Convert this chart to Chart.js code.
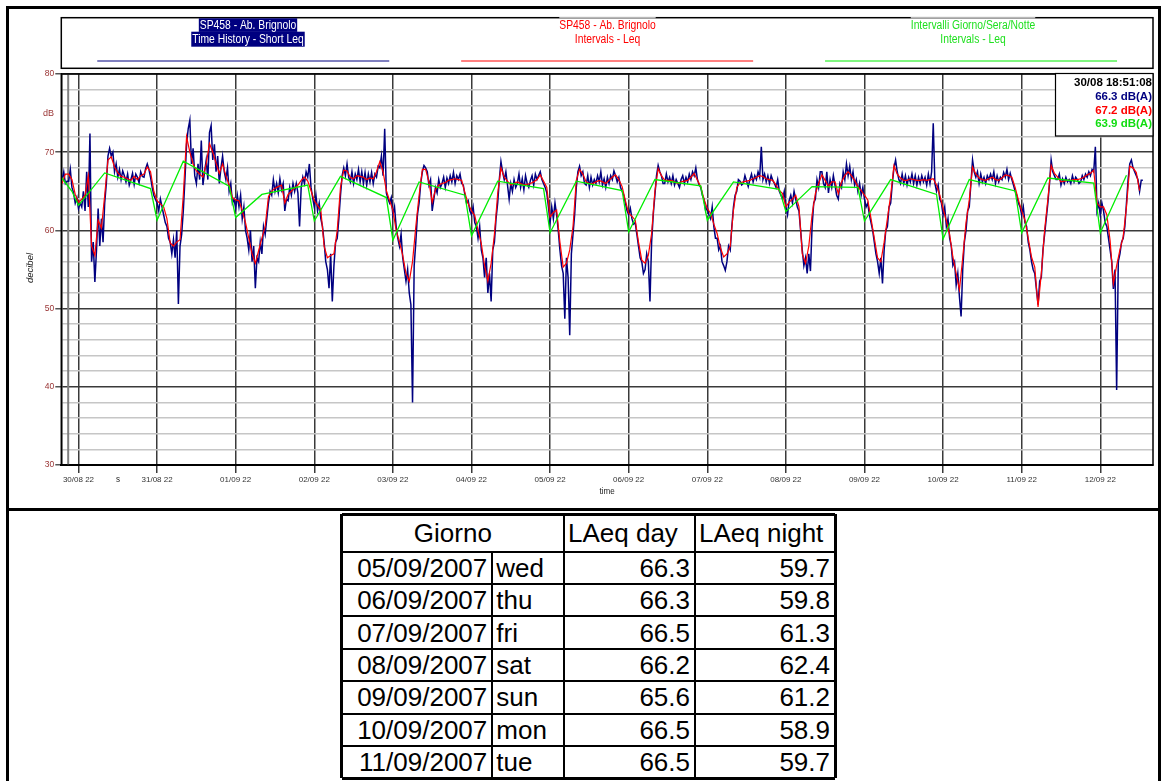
<!DOCTYPE html>
<html>
<head>
<meta charset="utf-8">
<script src="https://cdn.jsdelivr.net/npm/chart.js@4.4.1/dist/chart.umd.min.js"></script>
<style>
  html, body { margin: 0; padding: 0; background: #fff; }
  #page { position: relative; width: 1165px; height: 781px; overflow: hidden; background: #fff; }
  #plot { position: absolute; left: 0; top: 0; }
  .rule { position: absolute; background: #000; }
  .cell { position: absolute; display: flex; align-items: center; white-space: nowrap;
          font-family: "Liberation Sans", Arial, sans-serif; font-size: 26px; line-height: 1; color: #000; }
</style>
</head>
<body>
<div id="page">
  <canvas id="plot" width="1165" height="505"></canvas>
  <div id="frame"></div>
  <div id="summary"></div>
</div>
<script>
// ---- time axis: hours counted from 30/08 00:00 ----
const dayTickHours  = [22, 46, 70, 94, 118, 142, 166, 190, 214, 238, 262, 286, 310, 334];
const dayTickLabels = ['30/08 22', '31/08 22', '01/09 22', '02/09 22', '03/09 22', '04/09 22', '05/09 22',
                       '06/09 22', '07/09 22', '08/09 22', '09/09 22', '10/09 22', '11/09 22', '12/09 22'];
const axisStartHour = 16.75;
const axisEndHour = 350.1;
const cursorHour = 18 + 51 / 60 + 8 / 3600;   // 30/08 18:51:08

// ---- short Leq time history (every 30 minutes from 30/08 17:00) ----
const shortLeqStartHour = 17;
const shortLeqStepHours = 0.5;
const shortLeq = [
  66.5, 67.5, 66.0, 66.3, 66.3, 67.8, 65.5, 64.8, 63.5, 64.2,
  62.8, 63.5, 63.0, 65.0, 62.5, 67.5, 63.0, 72.4, 56.0, 58.5,
  53.4, 57.5, 62.8, 58.0, 61.5, 58.5, 63.5, 66.0, 69.5, 70.5,
  69.5, 70.0, 67.5, 68.5, 66.8, 67.8, 66.5, 67.6, 67.0, 66.2,
  67.2, 65.8, 66.5, 67.3, 65.9, 67.2, 66.8, 66.1, 67.5, 66.9,
  66.8, 67.9, 68.5, 67.8, 66.8, 65.5, 64.5, 64.0, 63.5, 62.5,
  64.0, 63.0, 62.0, 61.0, 60.5, 59.0, 58.5, 57.0, 58.8, 56.5,
  60.0, 50.6, 58.0, 59.5, 62.5, 66.5, 71.0, 73.0, 74.1, 68.5,
  70.5, 67.0, 66.0, 68.5, 66.5, 71.5, 65.8, 67.5, 69.0, 66.5,
  72.5, 73.4, 69.0, 71.0, 67.5, 69.5, 66.0, 68.0, 69.5, 67.5,
  66.5, 68.0, 65.0, 66.0, 63.5, 64.0, 62.8, 64.5, 63.0, 64.5,
  61.5, 63.0, 60.0, 59.0, 57.5, 60.0, 56.0, 58.0, 52.6, 56.5,
  56.0, 58.5, 57.0, 60.5, 59.5, 61.5, 63.5, 65.0, 64.5, 66.5,
  65.0, 66.0, 64.8, 66.6, 65.2, 66.0, 62.5, 64.0, 63.8, 65.5,
  64.5, 66.0, 65.0, 66.0, 64.8, 60.5, 65.5, 66.8, 66.0, 67.5,
  66.8, 68.5, 65.5, 64.2, 63.0, 64.5, 62.5, 63.5, 61.5, 60.5,
  58.5, 56.0, 55.0, 52.6, 57.0, 50.9, 55.5, 58.5, 59.0, 61.5,
  64.5, 67.0, 68.0, 67.0, 68.5, 66.8, 66.2, 67.5, 66.0, 67.2,
  66.5, 67.8, 66.2, 67.5, 66.0, 67.4, 65.8, 67.2, 66.2, 67.4,
  66.0, 67.2, 66.8, 68.2, 68.0, 69.5, 67.0, 73.0, 64.8, 64.0,
  63.5, 64.2, 62.0, 63.0, 60.5, 59.0, 58.0, 59.5, 56.5, 55.0,
  53.5, 55.0, 52.0, 50.5, 38.0, 55.5, 58.5, 62.0, 63.5, 66.0,
  67.5, 68.3, 68.0, 67.5, 65.8, 66.5, 62.5, 64.0, 65.5, 64.8,
  66.5, 65.5, 66.0, 66.8, 65.5, 66.7, 66.0, 67.0, 66.2, 67.4,
  66.0, 67.0, 66.5, 67.2, 66.0, 65.8, 64.5, 63.5, 63.8, 62.5,
  62.0, 63.0, 61.0, 60.5, 59.0, 60.5, 57.5, 56.5, 54.0, 56.5,
  52.0, 54.5, 50.9, 57.5, 58.5, 61.5, 63.5, 66.5, 68.8, 67.5,
  66.5, 67.5, 65.8, 64.0, 66.0, 65.0, 66.5, 65.5, 66.0, 67.2,
  65.5, 66.6, 65.2, 67.0, 66.0, 65.5, 66.4, 67.0, 65.8, 67.2,
  66.5, 67.0, 67.5, 66.5, 66.0, 65.5, 64.8, 63.0, 61.0, 63.0,
  61.5, 63.5, 62.0, 60.0, 57.5, 55.5, 54.5, 48.7, 56.5, 54.0,
  46.6, 57.0, 59.5, 62.0, 65.5, 67.5, 68.2, 67.0, 67.5, 66.0,
  65.8, 67.0, 65.5, 66.8, 65.8, 66.5, 66.0, 67.0, 66.2, 67.5,
  65.8, 66.6, 65.5, 66.8, 66.0, 67.0, 66.5, 67.6, 67.0, 66.2,
  66.8, 65.5, 65.0, 64.5, 63.5, 62.5, 62.0, 62.8, 61.5, 60.8,
  61.0, 59.5, 58.0, 56.5, 56.0, 54.5, 55.0, 57.0, 56.0, 50.9,
  58.5, 62.0, 64.5, 67.0, 68.3, 67.5, 67.0, 66.0, 66.0, 67.2,
  66.2, 66.8, 66.0, 67.0, 65.8, 66.5, 66.0, 65.5, 66.5, 67.0,
  66.0, 66.8, 66.2, 67.2, 66.5, 67.5, 67.0, 68.0, 66.5, 65.8,
  65.5, 64.5, 64.0, 62.5, 63.0, 62.0, 61.5, 63.0, 60.5, 59.0,
  59.0, 57.5, 58.0, 56.0, 55.5, 54.9, 56.0, 58.0, 57.5, 60.5,
  63.0, 64.5, 65.0, 66.5, 66.3, 65.8, 66.0, 67.0, 66.3, 65.6,
  66.5, 67.2, 66.2, 67.0, 66.5, 67.5, 66.8, 70.7, 66.5, 67.2,
  66.2, 67.0, 66.0, 67.0, 66.4, 66.0, 65.5, 66.5, 65.0, 64.5,
  64.0, 65.0, 63.0, 62.0, 63.8, 64.5, 63.5, 65.0, 64.0, 63.0,
  62.5, 60.0, 57.5, 55.5, 56.5, 54.5, 57.0, 54.8, 60.5, 63.5,
  64.0, 66.5, 65.5, 67.5, 67.5, 66.0, 65.5, 67.5, 64.8, 66.5,
  65.5, 67.0, 65.8, 64.5, 64.0, 66.0, 65.5, 67.5, 66.5, 68.5,
  67.0, 68.2, 66.5, 67.5, 65.8, 66.5, 65.0, 66.0, 64.5, 65.5,
  64.0, 63.0, 63.5, 62.0, 61.0, 60.0, 58.5, 57.0, 56.0, 54.5,
  56.5, 53.2, 57.5, 60.0, 60.5, 63.0, 63.5, 66.0, 68.0, 69.0,
  67.5, 66.5, 66.0, 67.2, 66.0, 67.0, 65.8, 66.8, 66.2, 67.2,
  66.0, 67.0, 65.8, 66.8, 66.0, 67.0, 66.2, 66.8, 65.8, 67.2,
  66.0, 67.5, 73.7, 66.0, 65.0, 65.8, 64.0, 63.5, 62.0, 63.0,
  60.5, 61.5, 59.0, 58.0, 55.5, 56.0, 53.0, 54.5, 51.5, 49.0,
  55.0, 58.5, 60.0, 62.5, 63.0, 66.0, 69.0, 67.5, 66.8, 67.5,
  66.0, 67.2, 66.2, 66.8, 66.0, 67.0, 66.5, 67.2, 66.5, 67.5,
  66.0, 67.0, 66.2, 66.8, 66.5, 67.4, 66.8, 67.8, 66.5, 67.3,
  66.5, 65.8, 65.0, 64.5, 63.5, 63.0, 62.0, 63.0, 61.0, 60.5,
  58.5, 57.5, 56.0, 55.0, 54.5, 52.5, 50.5, 53.5, 54.0, 57.5,
  59.5, 61.5, 63.5, 66.0, 69.0, 67.5, 67.0, 66.5, 66.5, 67.2,
  65.8, 66.6, 66.0, 66.8, 66.2, 66.5, 66.0, 67.0, 66.2, 66.8,
  66.5, 66.0, 66.2, 67.0, 66.5, 67.2, 66.8, 67.5, 67.0, 67.8,
  67.5, 70.7, 62.5, 63.5, 62.0, 63.5, 62.5, 61.0, 60.5, 59.0,
  57.5, 56.0, 52.5, 55.0, 39.6, 56.0, 57.0, 58.5, 59.0, 60.5,
  63.5, 66.5, 68.5, 69.0, 68.0, 67.5, 67.0, 66.5, 65.0, 66.4,
  66.4
];

// ---- interval Leq (hourly, from 30/08 17:00) ----
const intervalStartHour = 17;
const intervalStepHours = 1;
const intervalLeq = [
  66.0, 67.2, 67.2, 66.5, 64.6, 63.6, 64.0, 64.5, 67.0, 58.0,
  56.8, 61.3, 60.3, 64.5, 69.0, 69.4, 68.1, 67.4, 66.9, 66.8,
  66.6, 66.4, 66.9, 66.5, 67.0, 67.2, 68.1, 67.5, 65.0, 63.8,
  63.4, 63.0, 61.5, 58.4, 58.0, 58.5, 58.8, 64.5, 72.0, 70.0,
  68.5, 67.6, 67.2, 66.8, 68.5, 71.1, 70.0, 68.6, 67.3, 68.5,
  67.0, 65.8, 64.2, 63.9, 63.8, 62.5, 61.0, 59.0, 57.0, 55.8,
  57.4, 59.0, 60.5, 64.3, 65.0, 65.4, 65.6, 65.8, 63.5, 64.6,
  65.0, 65.4, 65.8, 66.4, 66.8, 66.3, 65.1, 63.8, 63.2, 62.6,
  58.0, 56.5, 56.8, 57.0, 60.0, 65.5, 67.7, 67.6, 66.8, 66.6,
  67.0, 66.9, 66.8, 66.5, 66.7, 66.6, 67.5, 68.8, 67.5, 65.1,
  63.8, 62.6, 60.0, 58.5, 56.8, 54.5, 53.5, 56.0, 60.5, 64.5,
  67.8, 67.8, 66.2, 63.6, 65.2, 65.8, 66.0, 66.1, 66.4, 66.5,
  66.6, 66.5, 66.4, 64.8, 63.4, 62.5, 61.9, 60.0, 58.3, 55.5,
  53.5, 55.8, 59.5, 64.7, 68.0, 66.8, 66.3, 65.8, 66.0, 66.2,
  66.0, 65.8, 65.9, 66.0, 66.2, 66.5, 67.1, 66.3, 65.5, 61.7,
  62.3, 62.6, 58.5, 55.3, 55.8, 57.5, 60.5, 66.4, 67.8, 67.2,
  66.2, 66.0, 66.0, 66.2, 66.4, 66.2, 66.0, 66.4, 66.8, 67.1,
  66.5, 65.6, 63.8, 62.2, 61.8, 61.3, 58.5, 56.2, 55.8, 56.8,
  59.6, 65.0, 67.9, 67.0, 66.4, 66.4, 66.4, 66.2, 66.0, 66.2,
  66.3, 66.4, 66.8, 67.3, 66.4, 65.6, 64.0, 62.8, 62.2, 60.8,
  59.6, 57.8, 56.6, 57.0, 58.0, 62.6, 65.5, 66.1, 66.2, 66.3,
  66.4, 66.6, 66.8, 67.0, 66.9, 66.6, 66.5, 66.4, 65.8, 65.1,
  64.7, 63.0, 63.6, 64.0, 64.5, 63.0, 57.0, 55.8, 58.0, 62.0,
  64.7, 66.0, 67.1, 66.4, 65.6, 66.2, 66.2, 64.7, 66.2, 67.0,
  67.5, 67.0, 66.4, 65.6, 65.1, 64.5, 63.9, 61.5, 59.0, 56.5,
  56.0, 58.5, 61.5, 64.5, 68.3, 67.2, 66.7, 66.4, 66.4, 66.6,
  66.5, 66.4, 66.4, 66.5, 66.4, 66.5, 66.6, 65.8, 64.5, 62.8,
  61.2, 59.5, 56.6, 54.5, 52.4, 56.5, 61.0, 63.9, 68.1, 67.2,
  66.7, 66.5, 66.4, 66.6, 66.8, 66.5, 66.4, 66.7, 67.1, 67.0,
  66.8, 65.5, 63.9, 62.5, 61.3, 59.0, 56.6, 55.3, 50.2, 54.5,
  60.0, 64.0, 68.3, 67.3, 66.8, 66.2, 66.3, 66.4, 66.4, 66.5,
  66.5, 66.6, 66.8, 67.1, 67.3, 67.7, 63.5, 63.0, 63.0, 62.0,
  58.7, 53.2, 55.5, 57.5, 59.2, 63.0, 68.2, 68.0, 67.4, 65.1
];

// ---- day / evening / night interval levels (06:00, 20:00, 22:00 vertices) ----
const periodHours = [16.75, 20, 22, 30, 44, 46, 54, 68, 70, 78, 92, 94, 102, 116, 118,
                     126, 140, 142, 150, 164, 166, 174, 188, 190, 198, 212, 214, 222, 236, 238,
                     246, 260, 262, 270, 284, 286, 294, 308, 310, 318, 332, 334, 342];
const periodLeq   = [66.8, 65.0, 63.2, 67.35, 65.35, 61.3, 68.85, 65.65, 61.65, 64.6, 65.8, 61.2, 66.9, 64.2, 58.75,
                     66.2, 64.5, 59.3, 66.3, 65.35, 59.7, 66.3, 65.1, 59.8, 66.5, 65.7, 61.3, 66.2, 65.25, 62.4,
                     65.6, 65.5, 61.2, 66.5, 64.6, 58.9, 66.5, 65.05, 59.7, 66.7, 66.05, 59.7, 67.05];

// ---- cursor read-out ----
const cursorLabel = '30/08 18:51:08';
const cursorReadings = ['66.3 dB(A)', '67.2 dB(A)', '63.9 dB(A)'];

// ---- daily summary table ----
const summaryDates = ['05/09/2007', '06/09/2007', '07/09/2007', '08/09/2007', '09/09/2007', '10/09/2007', '11/09/2007'];
const summaryDays  = ['wed', 'thu', 'fri', 'sat', 'sun', 'mon', 'tue'];
const laeqDay      = [66.3, 66.3, 66.5, 66.2, 65.6, 66.5, 66.5];
const laeqNight    = [59.7, 59.8, 61.3, 62.4, 61.2, 58.9, 59.7];

const NAVY = '#000080', RED = '#ff0000', GREEN = '#00ee00';
const SANS = '"Liberation Sans", Arial, sans-serif';

const series = (start, step, values) => values.map((v, i) => ({ x: start + i * step, y: v }));

// condensed text: draw with a horizontal squeeze
function squeezedText(ctx, text, x, y, sx) {
  ctx.save();
  ctx.translate(x, y);
  ctx.scale(sx, 1);
  ctx.fillText(text, 0, 0);
  ctx.restore();
}

const legendBlocks = [
  { lines: ['SP458 - Ab. Brignolo', 'Time History - Short Leq'], color: NAVY, textX: 248, inverse: true },
  { lines: ['SP458 - Ab. Brignolo', 'Intervals - Leq'], color: RED, textX: 607.5 },
  { lines: ['Intervalli Giorno/Sera/Notte', 'Intervals - Leq'], color: '#1fe01f', lineColor: GREEN, textX: 973 }
];
const LEGEND_SQUEEZE = 0.86;

const decor = {
  id: 'decor',
  beforeDatasetsDraw(chart) {
    const { ctx, chartArea: a, scales: { x } } = chart;
    const cx = x.getPixelForValue(cursorHour);
    ctx.save();
    ctx.strokeStyle = '#808080';
    ctx.lineWidth = 2;
    ctx.beginPath(); ctx.moveTo(cx, a.top); ctx.lineTo(cx, a.bottom); ctx.stroke();
    ctx.restore();
  },
  afterDatasetsDraw(chart) {
    const { ctx, chartArea: a } = chart;
    ctx.save();
    // plot frame
    ctx.strokeStyle = '#000';
    ctx.lineWidth = 1.5;
    ctx.strokeRect(a.left, a.top, a.right - a.left, a.bottom - a.top);
    // cursor read-out box
    const bx = 1055.5, by = a.top - 0.5, bw = a.right - bx, bh = 62.5;
    ctx.fillStyle = '#fff';
    ctx.fillRect(bx, by, bw, bh);
    ctx.lineWidth = 1.2;
    ctx.strokeRect(bx, by, bw, bh);
    ctx.font = 'bold 11.5px ' + SANS;
    ctx.textAlign = 'right';
    ctx.textBaseline = 'middle';
    const colors = ['#000', NAVY, RED, '#11dd11'];
    const texts = [cursorLabel].concat(cursorReadings);
    const ys = [83, 97.3, 110.7, 124];
    texts.forEach((t, i) => { ctx.fillStyle = colors[i]; ctx.fillText(t, a.right - 1, ys[i]); });
    ctx.restore();
  },
  afterDraw(chart) {
    const { ctx, chartArea: a, scales: { y } } = chart;
    ctx.save();
    // legend frame
    const top = 17.7, bottom = 68.3;
    ctx.strokeStyle = '#000';
    ctx.lineWidth = 1.5;
    ctx.strokeRect(a.left, top, a.right - a.left, bottom - top);
    const third = (a.right - a.left) / 3;
    ctx.font = '12px ' + SANS;
    ctx.textAlign = 'center';
    ctx.textBaseline = 'middle';
    legendBlocks.forEach((b, k) => {
      const w0 = ctx.measureText(b.lines[0]).width * LEGEND_SQUEEZE;
      const w1 = ctx.measureText(b.lines[1]).width * LEGEND_SQUEEZE;
      if (b.inverse) {
        ctx.fillStyle = NAVY;
        ctx.fillRect(b.textX - w0 / 2 - 1, 18.3, w0 + 2, 13.6);
        ctx.fillRect(b.textX - w1 / 2 - 1, 31.7, w1 + 2, 15);
        ctx.fillStyle = '#fff';
      } else {
        const wm = Math.max(w0, w1);
        ctx.strokeStyle = '#b8b8b8';
        ctx.lineWidth = 1.5;
        ctx.beginPath(); ctx.moveTo(b.textX - wm / 2, top); ctx.lineTo(b.textX + wm / 2, top); ctx.stroke();
        ctx.fillStyle = b.color;
      }
      squeezedText(ctx, b.lines[0], b.textX, 25.3, LEGEND_SQUEEZE);
      squeezedText(ctx, b.lines[1], b.textX, 39.7, LEGEND_SQUEEZE);
      // sample line
      const c = a.left + third * (k + 0.5);
      ctx.strokeStyle = b.lineColor || b.color;
      ctx.lineWidth = 1;
      ctx.beginPath(); ctx.moveTo(c - 146, 61); ctx.lineTo(c + 146, 61); ctx.stroke();
    });
    // unit, axis titles
    ctx.fillStyle = '#993333';
    ctx.font = '9px ' + SANS;
    ctx.textAlign = 'right';
    ctx.fillText('dB', 54, y.getPixelForValue(75));
    ctx.fillStyle = '#222';
    ctx.font = '9.5px ' + SANS;
    ctx.textAlign = 'center';
    squeezedText(ctx, 'time', (a.left + a.right) / 2, 491, 0.85);
    squeezedText(ctx, 's', 118, 479.5, 0.85);
    ctx.save();
    ctx.translate(30, 268);
    ctx.rotate(-Math.PI / 2);
    ctx.font = 'italic 9.5px ' + SANS;
    ctx.fillText('decibel', 0, 0);
    ctx.restore();
    ctx.restore();
  }
};

new Chart(document.getElementById('plot'), {
  type: 'line',
  data: {
    datasets: [
      { label: 'Intervalli Giorno/Sera/Notte', data: periodHours.map((h, i) => ({ x: h, y: periodLeq[i] })),
        borderColor: GREEN, borderWidth: 1.3, pointRadius: 0, tension: 0 },
      { label: 'Intervals - Leq', data: series(intervalStartHour, intervalStepHours, intervalLeq),
        borderColor: RED, borderWidth: 1.2, pointRadius: 0, tension: 0 },
      { label: 'Time History - Short Leq', data: series(shortLeqStartHour, shortLeqStepHours, shortLeq),
        borderColor: NAVY, borderWidth: 1.5, pointRadius: 0, tension: 0 }
    ]
  },
  options: {
    responsive: false,
    animation: false,
    events: [],
    layout: { padding: { left: 0, top: 74, right: 12, bottom: 4 } },
    plugins: { legend: { display: false }, tooltip: { enabled: false } },
    scales: {
      x: {
        type: 'linear', min: axisStartHour, max: axisEndHour,
        afterBuildTicks: s => { s.ticks = dayTickHours.map(v => ({ value: v })); },
        afterFit: s => { s.height = 36; },
        ticks: { autoSkip: false, maxRotation: 0, padding: 2, color: '#333',
                 font: { family: SANS, size: 8 },
                 callback: (v, i) => dayTickLabels[i] },
        grid: { color: '#3a3a3a', lineWidth: 1.5, tickLength: 8, tickColor: '#3a3a3a' },
        border: { display: true, color: '#000', width: 2 }
      },
      y: {
        min: 30, max: 80,
        afterFit: s => { s.width = 61.3; },
        ticks: { stepSize: 2, autoSkip: false, maxTicksLimit: 100, padding: 1, color: '#993333',
                 font: { family: SANS, size: 8.5 },
                 callback: v => (v % 10 === 0 ? String(v) : '') },
        grid: {
          color: c => (c.tick && c.tick.value % 10 === 0 ? '#3a3a3a' : '#c6c6c6'),
          lineWidth: 1.5, tickLength: 6,
          tickColor: c => (c.tick && c.tick.value % 10 === 0 ? '#555' : 'rgba(0,0,0,0)')
        },
        border: { display: true, color: '#000', width: 1.5 }
      }
    }
  },
  plugins: [decor]
});

// ---- page frame ----
const frame = document.getElementById('frame');
[[6, 6, 1155, 3], [6, 6, 3, 775], [1158, 6, 3, 775], [6, 508, 1155, 3]].forEach(([l, t, w, h]) => {
  const d = document.createElement('div');
  d.className = 'rule';
  Object.assign(d.style, { left: l + 'px', top: t + 'px', width: w + 'px', height: h + 'px' });
  frame.appendChild(d);
});

// ---- summary table ----
const box = document.getElementById('summary');
const colX = [341.7, 492.3, 564, 695, 835];
const rowY = [514, 551.5, 584, 616.4, 648.8, 681.2, 713.6, 746, 778.4];
function rule(l, t, w, h) {
  const d = document.createElement('div');
  d.className = 'rule';
  Object.assign(d.style, { left: l + 'px', top: t + 'px', width: w + 'px', height: h + 'px' });
  box.appendChild(d);
}
function cell(text, x0, x1, y0, y1, align) {
  const d = document.createElement('div');
  d.className = 'cell';
  d.textContent = text;
  Object.assign(d.style, {
    left: x0 + 'px', top: y0 + 'px', width: (x1 - x0) + 'px', height: (y1 - y0) + 'px',
    justifyContent: align === 'right' ? 'flex-end' : align === 'center' ? 'center' : 'flex-start',
    paddingLeft: align === 'left' ? '4px' : '0', paddingRight: align === 'right' ? '5px' : '0',
    boxSizing: 'border-box'
  });
  box.appendChild(d);
}
cell('Giorno', colX[0], colX[2], rowY[0], rowY[1], 'center');
cell('LAeq day', colX[2], colX[3], rowY[0], rowY[1], 'left');
cell('LAeq night', colX[3], colX[4], rowY[0], rowY[1], 'left');
summaryDates.forEach((d, i) => {
  const y0 = rowY[i + 1], y1 = rowY[i + 2];
  cell(d, colX[0], colX[1], y0, y1, 'right');
  cell(summaryDays[i], colX[1], colX[2], y0, y1, 'left');
  cell(laeqDay[i].toFixed(1), colX[2], colX[3], y0, y1, 'right');
  cell(laeqNight[i].toFixed(1), colX[3], colX[4], y0, y1, 'right');
});
rowY.forEach((yy, i) => {
  const outer = i === 0 || i === rowY.length - 1;
  rule(colX[0], yy - (outer ? 1.5 : 1), colX[4] - colX[0], outer ? 3 : 2);
});
colX.forEach((xx, i) => {
  const outer = i === 0 || i === colX.length - 1;
  const t = i === 1 ? rowY[1] : rowY[0];
  rule(xx - (outer ? 1.5 : 1), t, outer ? 3 : 2, rowY[rowY.length - 1] - t);
});
</script>
</body>
</html>
